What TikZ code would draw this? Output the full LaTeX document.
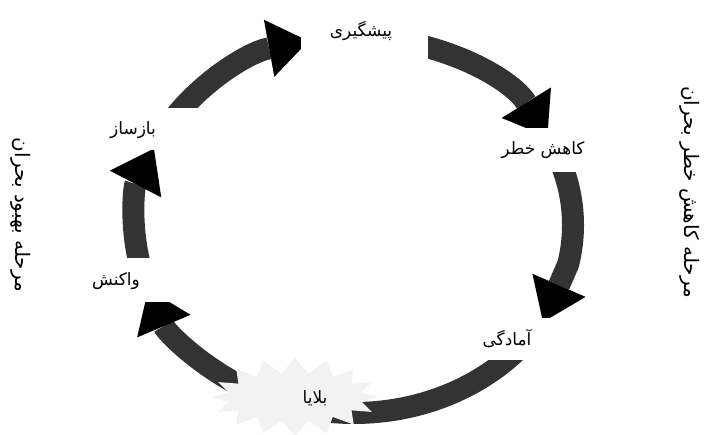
\documentclass[tikz,border=0pt]{standalone}
\usepackage{fontspec}
\setmainfont{DejaVu Sans}
\newfontfamily\arabicfont[Script=Arabic]{DejaVu Sans}
\TeXXeTstate=1
\usetikzlibrary{arrows.meta,shapes.symbols,calc}
\definecolor{shaftgray}{HTML}{333333}
\definecolor{stargray}{HTML}{F2F2F2}
\tikzset{
  shaft/.style={draw=shaftgray, line width=22pt, line join=round,
    -{Triangle[length=40pt,width=58pt,line width=0pt,color=black,fill=black]}},
  shaftplain/.style={draw=shaftgray, line width=22pt},
  mask/.style={fill=white},
  lbl/.style={inner sep=0pt, font=\arabicfont\fontsize{17}{19}\selectfont},
  sidelbl/.style={font=\arabicfont\fontsize{20}{22}\selectfont, rotate=-90, inner sep=0pt},
}
\begin{document}
\begin{tikzpicture}[x=1pt,y=1pt]
\useasboundingbox (0,0) rectangle (706,435);
\coordinate (c) at (354,210);
\coordinate (s1) at ($(c)+(150:219pt and 188pt)$);
\coordinate (s2) at ($(c)+(88:219pt and 188pt)$);
\coordinate (s3) at ($(c)+(20:219pt and 188pt)$);
\coordinate (e3) at (543,113);
\coordinate (s4) at ($(c)+(-42:219pt and 188pt)$);
\coordinate (s5) at ($(c)+(-118:219pt and 188pt)$);
\coordinate (s6) at ($(c)+(195:219pt and 188pt)$);
% arcs
\draw[shaft] (s1) arc[start angle=150, end angle=102, x radius=219pt, y radius=188pt];
\draw[shaft] (s2) arc[start angle=88, end angle=28, x radius=219pt, y radius=188pt];
\draw[shaft] (s3) arc[start angle=20, end angle=-12, x radius=219pt, y radius=188pt] -- (e3);
\draw[shaftplain] (s4) arc[start angle=-42, end angle=-98, x radius=219pt, y radius=188pt];
\draw[shaft] (s5) arc[start angle=-118, end angle=-160, x radius=219pt, y radius=188pt];
\draw[shaft] (s6) arc[start angle=195, end angle=156, x radius=219pt, y radius=188pt];
% disaster burst
\node[starburst, starburst points=16, starburst point height=15pt, random starburst=0,
      fill=stargray, minimum width=166pt, minimum height=78pt] (burst) at (295,38) {};
\node[lbl] (bala) at (315,37) {\beginR بلایا\endR};
% white boxes behind the stage labels
\fill[mask] (301,373) rectangle (428,435);
\fill[mask] (496,263) rectangle (592,307);
\fill[mask] (465,75) rectangle (565,117);
\fill[mask] (70,133) rectangle (175,177);
\fill[mask] (90,285) rectangle (200,327);
% labels
\node[lbl] (pish) at (361,404) {\beginR پیشگیری\endR};
\node[lbl] (kahesh) at (543,285) {\beginR کاهش خطر\endR};
\node[lbl] (amadegi) at (507,96) {\beginR آمادگی\endR};
\node[lbl] (vakonesh) at (116,154) {\beginR واکنش\endR};
\node[lbl] (bazsaz) at (133,305) {\beginR بازساز\endR};
% side labels
\node[sidelbl] (leftlbl) at (21,220) {\beginR مرحله بهبود بحران\endR};
\node[sidelbl] (rightlbl) at (690,243) {\beginR مرحله کاهش خطر بحران\endR};
\end{tikzpicture}
\end{document}
